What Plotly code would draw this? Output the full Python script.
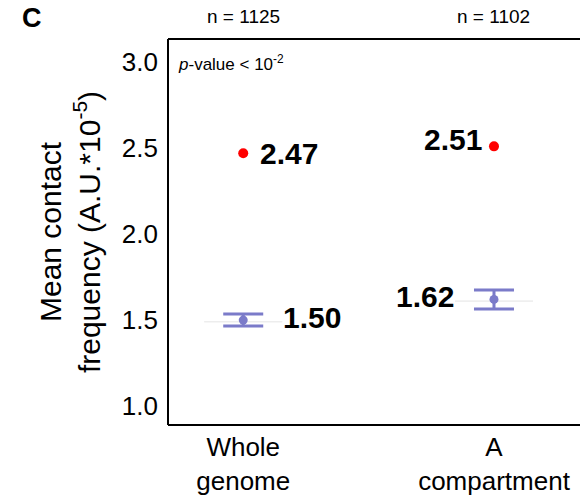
import plotly.graph_objects as go

categories = ["Whole<br>genome", "A<br>compartment"]
n_labels = ["n = 1125", "n = 1102"]
red_values = [2.47, 2.51]
blue_means = [1.50, 1.62]
blue_err = [0.035, 0.055]
violin_level = [1.49, 1.61]
red_text = ["2.47", "2.51"]
blue_text = ["1.50", "1.62"]

xpos = [0, 1]
FONT = "Liberation Sans, Arial, sans-serif"
BLUE = "#7B7BC9"
VFS = 30

fig = go.Figure()

# faint collapsed violin lines
fig.add_trace(go.Scatter(
    x=xpos, y=violin_level, mode="markers",
    marker=dict(size=1, color="rgba(0,0,0,0)"),
    error_y=dict(type="data", array=[0, 0], width=39, thickness=1, color="#ECECEC"),
    showlegend=False, hoverinfo="skip"))

# mean with error bars
fig.add_trace(go.Scatter(
    x=xpos, y=blue_means, mode="markers",
    marker=dict(size=9, color=BLUE),
    error_y=dict(type="data", array=blue_err, width=20, thickness=3, color=BLUE),
    showlegend=False))

# red points
fig.add_trace(go.Scatter(
    x=xpos, y=red_values, mode="markers",
    marker=dict(size=10, color="#FF0000"),
    showlegend=False))

annotations = []
# value labels
annotations.append(dict(x=xpos[0], y=red_values[0], text=f"<b>{red_text[0]}</b>", xref="x", yref="y",
                        xanchor="left", yanchor="middle", xshift=15, yshift=0, showarrow=False,
                        font=dict(size=VFS, color="black", family=FONT)))
annotations.append(dict(x=xpos[1], y=red_values[1], text=f"<b>{red_text[1]}</b>", xref="x", yref="y",
                        xanchor="right", yanchor="middle", xshift=-10, yshift=7, showarrow=False,
                        font=dict(size=VFS, color="black", family=FONT)))
annotations.append(dict(x=xpos[0], y=blue_means[0], text=f"<b>{blue_text[0]}</b>", xref="x", yref="y",
                        xanchor="left", yanchor="middle", xshift=38, yshift=3, showarrow=False,
                        font=dict(size=VFS, color="black", family=FONT)))
annotations.append(dict(x=xpos[1], y=blue_means[1], text=f"<b>{blue_text[1]}</b>", xref="x", yref="y",
                        xanchor="right", yanchor="middle", xshift=-38, yshift=3, showarrow=False,
                        font=dict(size=VFS, color="black", family=FONT)))
# n labels
for xp, t in zip(xpos, n_labels):
    annotations.append(dict(x=xp, y=1, xref="x", yref="paper", text=t, showarrow=False,
                            yanchor="bottom", yshift=10, font=dict(size=19, color="black", family=FONT)))
# panel letter
annotations.append(dict(x=-168 / 412, y=1, xref="paper", yref="paper", text="<b>C</b>", showarrow=False,
                        xanchor="left", yanchor="bottom", xshift=20, yshift=4,
                        font=dict(size=27, color="black", family=FONT)))
# p-value
annotations.append(dict(x=0, y=1, xref="paper", yref="paper", text="<i>p</i>-value < 10<sup>-2</sup>",
                        showarrow=False, xanchor="left", yanchor="top", xshift=8, yshift=-11,
                        font=dict(size=17, color="black", family=FONT)))

shapes = [
    dict(type="line", xref="paper", yref="paper", x0=0, x1=0, y0=0, y1=1, line=dict(color="black", width=2)),
    dict(type="line", xref="paper", yref="paper", x0=0, x1=1.05, y0=1, y1=1, line=dict(color="black", width=2)),
    dict(type="line", xref="paper", yref="paper", x0=0, x1=1.05, y0=0, y1=0, line=dict(color="black", width=2)),
]

fig.update_layout(
    width=580, height=498,
    margin=dict(l=168, r=0, t=39, b=73),
    paper_bgcolor="white", plot_bgcolor="white",
    font=dict(family=FONT, color="black"),
    annotations=annotations, shapes=shapes,
    xaxis=dict(tickvals=xpos, ticktext=categories, range=[-0.3, 1.343],
               showgrid=False, zeroline=False, showline=False, ticks="",
               ticklabelstandoff=4,
               tickfont=dict(size=26, color="black", family=FONT)),
    yaxis=dict(range=[0.89, 3.134], tickvals=[1.0, 1.5, 2.0, 2.5, 3.0],
               ticktext=["1.0", "1.5", "2.0", "2.5", "3.0"],
               showgrid=False, zeroline=False, showline=False, ticks="",
               ticklabelstandoff=9,
               tickfont=dict(size=26, color="black", family=FONT),
               title=dict(text="Mean contact<br>frequency (A.U.*10<sup>-5</sup>)",
                          font=dict(size=30, color="black", family=FONT), standoff=12)),
)

fig.write_html("out.html")
